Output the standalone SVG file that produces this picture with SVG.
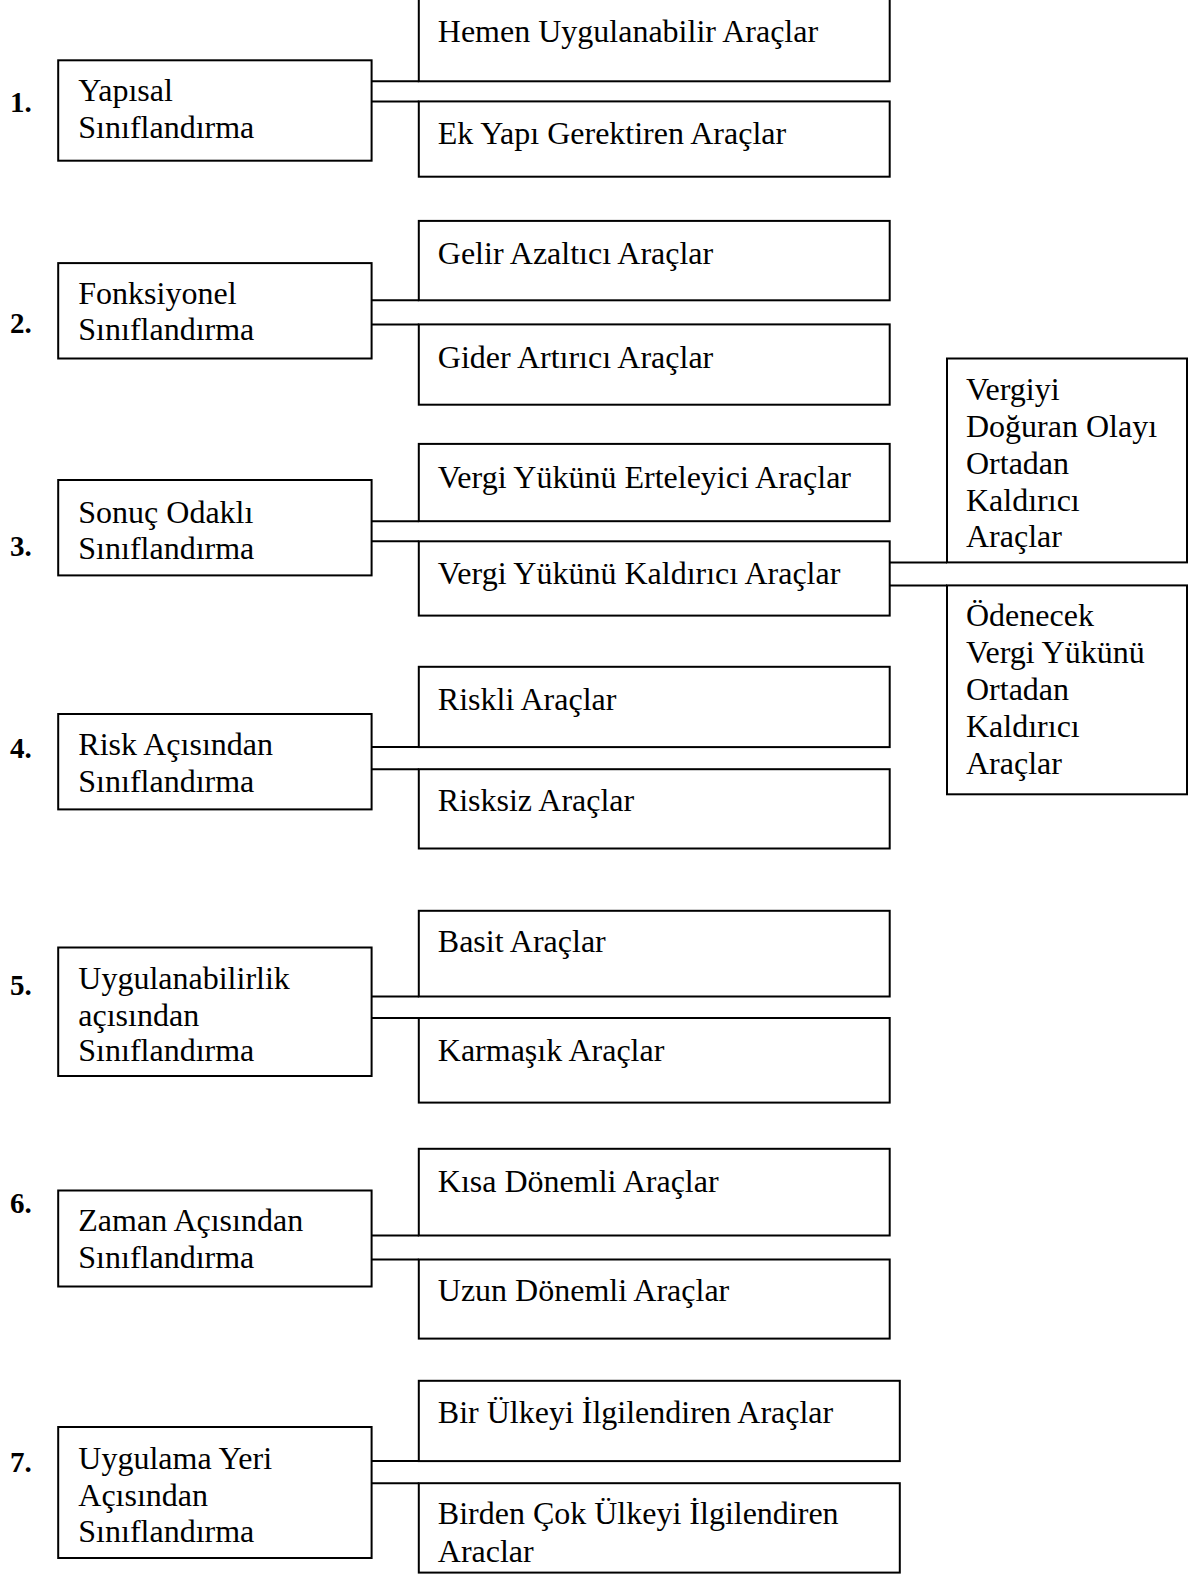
<svg xmlns="http://www.w3.org/2000/svg" width="1195" height="1575" viewBox="0 0 1195 1575">
<style>
rect{fill:#fff;stroke:#000;stroke-width:2}
line{stroke:#000;stroke-width:2}
text{font-family:"Liberation Serif","Times New Roman",serif;font-size:32px;fill:#000}
.num{font-weight:bold;font-size:29px}
</style>
<rect x="0" y="0" width="1195" height="1575" style="stroke:none"/>
<g id="connectors">
<line x1="371.6" y1="81.3" x2="418.8" y2="81.3"/>
<line x1="371.6" y1="101.4" x2="418.8" y2="101.4"/>
<line x1="371.6" y1="300.3" x2="418.8" y2="300.3"/>
<line x1="371.6" y1="324.4" x2="418.8" y2="324.4"/>
<line x1="371.6" y1="521.2" x2="418.8" y2="521.2"/>
<line x1="371.6" y1="541.3" x2="418.8" y2="541.3"/>
<line x1="889.7" y1="562.4" x2="947" y2="562.4"/>
<line x1="889.7" y1="585.4" x2="947" y2="585.4"/>
<line x1="371.6" y1="747.1" x2="418.8" y2="747.1"/>
<line x1="371.6" y1="769.2" x2="418.8" y2="769.2"/>
<line x1="371.6" y1="996.5" x2="418.8" y2="996.5"/>
<line x1="371.6" y1="1018" x2="418.8" y2="1018"/>
<line x1="371.6" y1="1235.5" x2="418.8" y2="1235.5"/>
<line x1="371.6" y1="1259.5" x2="418.8" y2="1259.5"/>
<line x1="371.6" y1="1461.1" x2="418.8" y2="1461.1"/>
<line x1="371.6" y1="1483.2" x2="418.8" y2="1483.2"/>
</g>
<g id="num1"><text class="num" x="10" y="112">1.</text></g>
<g id="num2"><text class="num" x="10" y="333">2.</text></g>
<g id="num3"><text class="num" x="10" y="556">3.</text></g>
<g id="num4"><text class="num" x="10" y="758">4.</text></g>
<g id="num5"><text class="num" x="10" y="995">5.</text></g>
<g id="num6"><text class="num" x="10" y="1213">6.</text></g>
<g id="num7"><text class="num" x="10" y="1472">7.</text></g>

<g id="p1"><rect x="58.2" y="60.3" width="313.4" height="100.4"/><text x="78.3" y="101">Yapısal</text><text x="78.3" y="137.6">Sınıflandırma</text></g>
<g id="c1a"><rect x="418.8" y="-1" width="470.9" height="82.3"/><text x="437.8" y="42.2">Hemen Uygulanabilir Araçlar</text></g>
<g id="c1b"><rect x="418.8" y="101.4" width="470.9" height="75.3"/><text x="437.8" y="143.6">Ek Yapı Gerektiren Araçlar</text></g>

<g id="p2"><rect x="58.2" y="263.1" width="313.4" height="95.4"/><text x="78.3" y="304.3">Fonksiyonel</text><text x="78.3" y="340.4">Sınıflandırma</text></g>
<g id="c2a"><rect x="418.8" y="220.9" width="470.9" height="79.4"/><text x="437.8" y="264.1">Gelir Azaltıcı Araçlar</text></g>
<g id="c2b"><rect x="418.8" y="324.4" width="470.9" height="80.3"/><text x="437.8" y="367.5">Gider Artırıcı Araçlar</text></g>

<g id="p3"><rect x="58.2" y="480" width="313.4" height="95.4"/><text x="78.3" y="523.2">Sonuç Odaklı</text><text x="78.3" y="559.3">Sınıflandırma</text></g>
<g id="c3a"><rect x="418.8" y="443.9" width="470.9" height="77.3"/><text x="437.8" y="488">Vergi Yükünü Erteleyici Araçlar</text></g>
<g id="c3b"><rect x="418.8" y="541.3" width="470.9" height="74.3"/><text x="437.8" y="584.4">Vergi Yükünü Kaldırıcı Araçlar</text></g>
<g id="g3a"><rect x="947" y="358.5" width="240" height="203.9"/><text x="966" y="399.7">Vergiyi</text><text x="966" y="436.8">Doğuran Olayı</text><text x="966" y="474">Ortadan</text><text x="966" y="511.1">Kaldırıcı</text><text x="966" y="547.3">Araçlar</text></g>
<g id="g3b"><rect x="947" y="585.4" width="240" height="208.9"/><text x="966" y="625.6">Ödenecek</text><text x="966" y="662.8">Vergi Yükünü</text><text x="966" y="700">Ortadan</text><text x="966" y="737.1">Kaldırıcı</text><text x="966" y="774.2">Araçlar</text></g>

<g id="p4"><rect x="58.2" y="714" width="313.4" height="95.4"/><text x="78.3" y="755.2">Risk Açısından</text><text x="78.3" y="792.3">Sınıflandırma</text></g>
<g id="c4a"><rect x="418.8" y="666.8" width="470.9" height="80.3"/><text x="437.8" y="710">Riskli Araçlar</text></g>
<g id="c4b"><rect x="418.8" y="769.2" width="470.9" height="79.3"/><text x="437.8" y="811.4">Risksiz Araçlar</text></g>

<g id="p5"><rect x="58.2" y="947.5" width="313.4" height="128.5"/><text x="78.3" y="989.1">Uygulanabilirlik</text><text x="78.3" y="1026.3">açısından</text><text x="78.3" y="1061.4">Sınıflandırma</text></g>
<g id="c5a"><rect x="418.8" y="910.8" width="470.9" height="85.7"/><text x="437.8" y="952">Basit Araçlar</text></g>
<g id="c5b"><rect x="418.8" y="1018" width="470.9" height="84.6"/><text x="437.8" y="1061.4">Karmaşık Araçlar</text></g>

<g id="p6"><rect x="58.2" y="1190.5" width="313.4" height="96"/><text x="78.3" y="1231.1">Zaman Açısından</text><text x="78.3" y="1268.3">Sınıflandırma</text></g>
<g id="c6a"><rect x="418.8" y="1148.8" width="470.9" height="86.7"/><text x="437.8" y="1192">Kısa Dönemli Araçlar</text></g>
<g id="c6b"><rect x="418.8" y="1259.5" width="470.9" height="79.1"/><text x="437.8" y="1301.4">Uzun Dönemli Araçlar</text></g>

<g id="p7"><rect x="58.2" y="1427" width="313.4" height="131"/><text x="78.3" y="1469">Uygulama Yeri</text><text x="78.3" y="1506">Açısından</text><text x="78.3" y="1541.5">Sınıflandırma</text></g>
<g id="c7a"><rect x="418.8" y="1380.8" width="481" height="80.3"/><text x="437.8" y="1423">Bir Ülkeyi İlgilendiren Araçlar</text></g>
<g id="c7b"><rect x="418.8" y="1483.2" width="481" height="89.4"/><text x="437.8" y="1524.3">Birden Çok Ülkeyi İlgilendiren</text><text x="437.8" y="1561.5">Araclar</text></g>
</svg>
